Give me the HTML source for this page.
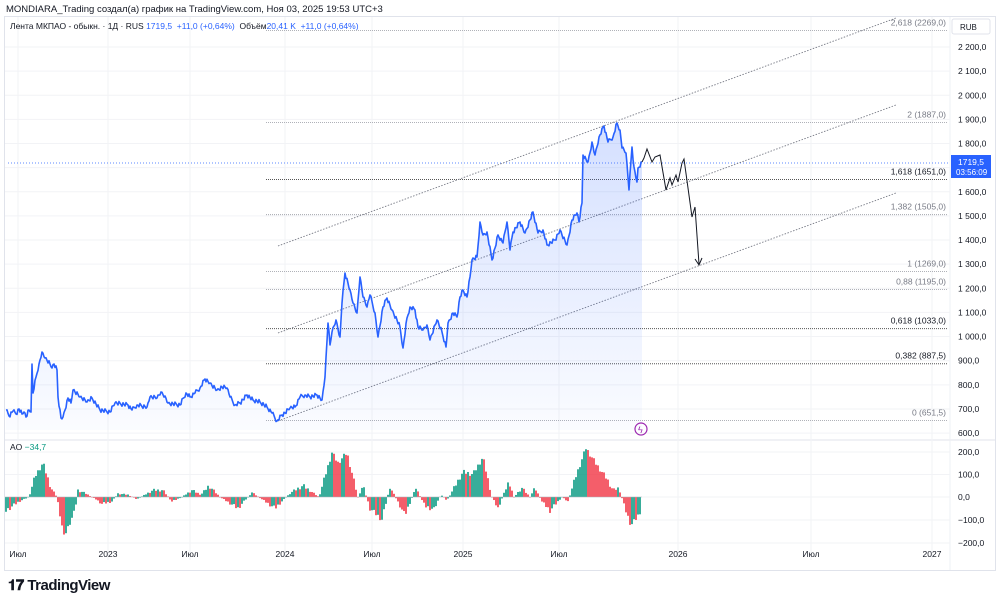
<!DOCTYPE html>
<html><head><meta charset="utf-8"><style>
body{margin:0;width:1000px;height:602px;background:#fff;overflow:hidden;font-family:"Liberation Sans","Noto Sans CJK SC",sans-serif}
svg text{font-family:"Liberation Sans","DejaVu Sans",sans-serif}
</style></head><body>
<svg id="s" width="1000" height="602" xmlns="http://www.w3.org/2000/svg">
<defs><linearGradient id="g" x1="0" y1="0" x2="0" y2="1"><stop offset="0" stop-color="#2962ff" stop-opacity="0.2"/><stop offset="1" stop-color="#2962ff" stop-opacity="0.02"/></linearGradient></defs>
<text x="6" y="12" font-size="9.5" fill="#131722">MONDIARA_Trading создал(а) график на TradingView.com, Ноя 03, 2025 19:53 UTC+3</text>
<rect x="4.5" y="16.5" width="991" height="554" fill="none" stroke="#e0e3eb"/>
<line x1="5" y1="440" x2="995" y2="440" stroke="#e0e3eb"/>
<line x1="950" y1="17" x2="950" y2="570" stroke="#eef0f4"/>
<g id="grid" stroke="#f2f3f6"></g>
<text x="10" y="29" font-size="8.5" fill="#131722">Лента МКПАО - обыкн. · 1Д · RUS <tspan fill="#2962ff">1719,5 &#160;+11,0 (+0,64%)</tspan> &#160;Объём<tspan fill="#2962ff">20,41 K &#160;+11,0 (+0,64%)</tspan></text>
<g id="fib"></g>
<line x1="8" y1="163" x2="948" y2="163" stroke="#2962ff" stroke-dasharray="1,2" stroke-width="0.8"/>
<g stroke="#787b86" stroke-dasharray="1.5,1.5" stroke-width="0.9">
<line x1="278" y1="246" x2="896" y2="18"/><line x1="278" y1="333" x2="896" y2="105"/><line x1="278" y1="421" x2="896" y2="193"/></g>
<path id="area" fill="url(#g)"/>
<polyline id="pl" fill="none" stroke="#2962ff" stroke-width="1.6" stroke-linejoin="round"/>
<polyline fill="none" stroke="#131722" stroke-width="1" points="642,162 644,158 647,149 652,162 655,157 660,155 666,190 670,178 672,185 676,175 678,182 682,163 684,159 692,217 695,207 699,264"/>
<path d="M695,259 L699,265 L702,258" fill="none" stroke="#131722" stroke-width="1"/>
<circle cx="641" cy="429" r="6" fill="none" stroke="#9c27b0" stroke-width="1.2"/>
<text x="638" y="433" font-size="9" fill="#9c27b0">ϟ</text>
<g id="ao"></g>
<line x1="5" y1="497" x2="642" y2="497" stroke="#b2b5be" stroke-width="0.5"/>
<text x="10" y="450" font-size="8.5" fill="#131722">AO <tspan fill="#089981">−34,7</tspan></text>
<g id="yax" font-size="8.5" fill="#131722"></g>
<rect x="952" y="19" width="38" height="15" rx="2" fill="#fff" stroke="#e0e3eb"/>
<text x="960" y="30" font-size="8" fill="#131722">RUB</text>
<rect x="951" y="155" width="40" height="23" fill="#2962ff"/>
<text x="958" y="165" font-size="8.5" fill="#fff">1719,5</text>
<text x="956" y="175" font-size="8" fill="#fff">03:56:09</text>
<g id="xax" font-size="8.5" fill="#131722"></g>
<text x="8" y="590" font-size="15" font-weight="bold" fill="#131722" letter-spacing="-0.5">𝟏𝟕 TradingView</text>
</svg>
<script>
var S="http://www.w3.org/2000/svg";
function el(p,t,a,tx){var e=document.createElementNS(S,t);for(var k in a)e.setAttribute(k,a[k]);if(tx)e.textContent=tx;document.getElementById(p).appendChild(e);return e;}
var xs=[18,108,190,285,372,463,559,678,811,932],xl=["Июл","2023","Июл","2024","Июл","2025","Июл","2026","Июл","2027"];
xs.forEach(function(x,i){el("grid","line",{x1:x,y1:17,x2:x,y2:560});el("xax","text",{x:x,y:557,"text-anchor":"middle"},xl[i]);});
function py(p){return 47+(2200-p)*0.2413;}
for(var p=600;p<=2200;p+=100){var y=py(p);el("grid","line",{x1:5,y1:y,x2:950,y2:y});el("yax","text",{x:958,y:y+3},(p>=1000?String(p).replace(/^(\d)/,"$1 "):p)+",0");}
[[200,452],[100,474.5],[0,497],[-100,520],[-200,543]].forEach(function(a){el("grid","line",{x1:5,y1:a[1],x2:950,y2:a[1]});el("yax","text",{x:958,y:a[1]+3},(a[0]>0?a[0]+",0":a[0]==0?"0,0":"−"+(-a[0])+",0"));});
var fib=[["2,618 (2269,0)",2269,0],["2 (1887,0)",1887,0],["1,618 (1651,0)",1651,1],["1,382 (1505,0)",1505,0],["1 (1269,0)",1269,0],["0,88 (1195,0)",1195,0],["0,618 (1033,0)",1033,1],["0,382 (887,5)",887.5,1],["0 (651,5)",651.5,0]];
fib.forEach(function(f){var y=py(f[1]);el("fib","line",{x1:266,y1:y,x2:948,y2:y,stroke:f[2]?"#555":"#9598a1","stroke-dasharray":"1,1","stroke-width":f[2]?1:0.8});el("fib","text",{x:946,y:y-5,"text-anchor":"end","font-size":8.5,fill:f[2]?"#131722":"#787b86"},f[0]);});
var pts="6,410 9,416 13,411 16,414 19,409 22,414 24,412 26,417 29,410 31,412 32,364 33,393 36,377 39,364 42,352 45,358 50,364 52,368 54,364 57,370 58,397 61,418 63,417 68,398 71,403 73,390 80,397 87,402 92,398 100,410 110,412 115,403 128,405 132,410 137,405 147,407 150,397 157,398 161,392 165,396 168,403 180,405 186,393 190,397 195,393 200,388 205,379 210,383 217,390 222,387 227,388 230,397 235,405 240,403 247,395 253,400 260,402 267,407 272,413 277,421 282,415 285,413 290,408 295,407 300,397 305,395 310,397 317,395 322,400 325,377 328,323 330,345 332,332 336,320 340,337 342,303 345,273 350,290 353,303 357,313 360,277 363,297 367,307 370,295 375,313 378,337 383,307 387,298 392,310 397,320 400,327 403,348 407,318 410,307 415,310 418,327 423,330 427,325 430,340 437,320 442,332 446,347 448,323 453,313 457,317 460,297 463,290 467,297 470,277 472,260 477,257 480,222 483,235 487,232 492,260 495,248 498,235 503,243 507,222 510,250 513,232 520,222 525,233 533,212 538,233 543,230 547,245 555,240 560,230 567,245 572,220 577,213 579,222 582,203 583,155 588,162 592,142 595,155 599,137 604,126 608,142 613,137 617,123 620,130 622,148 626,153 629,190 632,147 634,167 637,182 638,168 642,162";
var a=pts.split(" ").map(function(s){return s.split(",").map(Number);});
var out=[];for(var i=0;i<a.length-1;i++){var x0=a[i][0],y0=a[i][1],x1=a[i+1][0],y1=a[i+1][1];for(var x=x0;x<x1;x+=1){var t=(x-x0)/(x1-x0);out.push([x,y0+(y1-y0)*t+(t>0?((x*7919)%7-3)*0.7:0)]);}}
out.push(a[a.length-1]);
var ps=out.map(function(p){return p[0]+","+p[1].toFixed(1);}).join(" ");
document.getElementById("pl").setAttribute("points",ps);
document.getElementById("area").setAttribute("d","M6,430 L"+ps.replace(/ /g," L")+" L642,430 Z");
var ao=[[6,-60],[19,-20],[29,0],[35,90],[43,150],[51,40],[57,0],[64,-175],[75,-60],[78,30],[86,15],[96,-10],[102,-30],[112,-20],[118,15],[128,10],[137,-10],[153,30],[163,30],[172,-20],[182,0],[192,30],[201,10],[209,50],[220,0],[238,-50],[252,20],[262,-10],[275,-50],[291,20],[303,50],[319,0],[332,195],[338,150],[347,195],[358,0],[363,50],[370,-50],[382,-100],[390,45],[399,-30],[405,-80],[416,40],[425,-40],[434,-55],[441,10],[447,-15],[463,110],[473,100],[483,175],[492,0],[498,-50],[509,70],[514,0],[522,40],[530,0],[535,40],[542,-20],[550,-60],[562,0],[568,-20],[575,80],[586,215],[597,140],[607,80],[613,30],[619,40],[625,-50],[631,-125],[637,-90],[642,-50]];
var prev=null,j=0;
for(var x=6;x<=641;x+=2){while(j<ao.length-2&&ao[j+1][0]<x)j++;var A=ao[j],B=ao[j+1];var t=Math.min(1,Math.max(0,(x-A[0])/(B[0]-A[0])));var base=A[1]+(B[1]-A[1])*t;var v=base+(((x*31)%5)-2)*5*Math.min(1,Math.abs(base)/50);
var y=497-v*0.2275;var c=(prev===null||v>=prev)?"#089981":"#f23645";prev=v;
el("ao","rect",{x:x-0.8,y:Math.min(y,497),width:1.6,height:Math.abs(497-y)||0.5,fill:c});}
</script>
</body></html>
